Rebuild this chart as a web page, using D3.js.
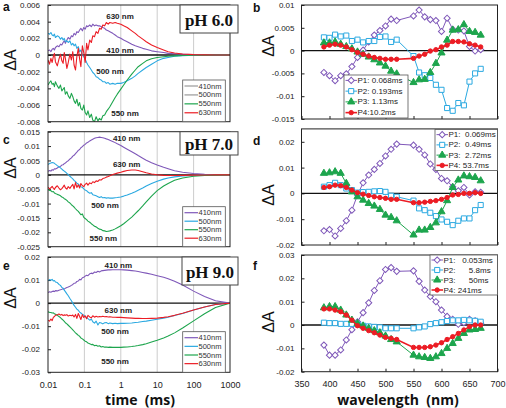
<!DOCTYPE html>
<html><head><meta charset="utf-8">
<script src="https://cdn.jsdelivr.net/npm/d3@7"></script>
<style>body{margin:0;background:#fff}svg{display:block}</style>
</head><body><svg id="c" width="506" height="408"></svg>
<script>
// ---------- DATA ----------
const T = [0.010,0.011,0.012,0.013,0.014,0.015,0.016,0.018,0.020,0.022,0.024,0.026,0.028,0.030,0.033,0.036,0.040,0.044,0.048,0.052,0.057,0.062,0.068,0.074,0.080,0.088,0.096,0.105,0.115,0.125,0.14,0.155,0.17,0.19,0.21,0.235,0.26,0.29,0.32,0.36,0.40,0.45,0.5,0.6,0.7,0.8,1.0,1.2,1.5,2.0,2.5,3.0,4.0,5.0,7.0,10,15,20,30,50,100,200,400,1000];

// pH 6.0
const a410 = [.0005,.0006,.0004,.0007,.0008,.0006,.0009,.0011,.0010,.0013,.0012,.0015,.0017,.0014,.0018,.0021,.0019,.0023,.0022,.0026,.0024,.0028,.0027,.0030,.0032,.0029,.0033,.0031,.0035,.0034,.0036,.0034,.0037,.0035,.0036,.0035,.0035,.0034,.0033,.0032,.0030,.0029,.0028,.0026,.0024,.0022,.0020,.0018,.0016,.0013,.0011,.0010,.0008,.0007,.0005,.0004,.0003,.0002,.00015,.0001,.00005,.00002,.00001,0];
const a500 = [.0026,.0025,.0027,.0024,.0023,.0025,.0021,.0023,.0022,.0019,.0021,.0018,.0020,.0016,.0017,.0015,.0017,.0012,.0014,.0011,.0013,.0008,.0010,.0004,.0006,.0000,-.0002,-.0005,-.0009,-.0012,-.0015,-.0018,-.0021,-.0023,-.0026,-.0027,-.0029,-.0030,-.0032,-.0032,-.0034,-.0033,-.0035,-.0034,-.0035,-.0034,-.0034,-.0033,-.0031,-.0028,-.0025,-.0022,-.0018,-.0015,-.0011,-.0007,-.0004,-.0003,-.00015,-.00008,-.00003,-.00001,0,0];
const a550 = [-.0036,-.0033,-.0031,-.0035,-.0034,-.0038,-.0032,-.0037,-.0040,-.0036,-.0043,-.0041,-.0039,-.0047,-.0044,-.0049,-.0052,-.0046,-.0050,-.0055,-.0058,-.0053,-.0061,-.0057,-.0064,-.0066,-.0060,-.0069,-.0072,-.0067,-.0075,-.0071,-.0078,-.0080,-.0074,-.0079,-.0076,-.0078,-.0073,-.0072,-.0068,-.0065,-.0062,-.0056,-.0051,-.0047,-.0041,-.0036,-.0030,-.0023,-.0018,-.0014,-.0010,-.0007,-.00045,-.0003,-.0002,-.00015,-.0001,-.00005,-.00002,-.00001,0,0];
const a630 = [-.0006,-.0011,-.0004,-.0009,-.0002,.0002,-.0008,-.0013,-.0005,.0001,-.0007,-.0010,.0003,-.0004,-.0016,-.0009,.0001,-.0006,.0004,-.0012,-.0018,-.0002,.0008,-.0005,-.0014,.0011,.0003,-.0009,.0014,.0006,.0018,.0015,.0023,.0022,.0028,.0026,.0032,.0031,.0036,.0035,.0039,.0037,.0039,.0038,.0039,.0038,.0037,.0035,.0033,.0029,.0026,.0023,.0019,.0016,.0012,.0009,.0006,.0004,.00025,.00012,.00005,.00002,.00001,0];
// pH 7.0
const c410 = [.0012,.0015,.0013,.0018,.0016,.0021,.0020,.0024,.0028,.0029,.0034,.0035,.0039,.0041,.0046,.0049,.0055,.0059,.0065,.0068,.0074,.0079,.0085,.0088,.0094,.0098,.0103,.0106,.0111,.0113,.0118,.0121,.0124,.0127,.0129,.0130,.0131,.0130,.0129,.0127,.0125,.0123,.0120,.0116,.0112,.0108,.0102,.0096,.0089,.0080,.0073,.0067,.0058,.0051,.0042,.0034,.0026,.0021,.0014,.0009,.00045,.0002,.0001,0];
const c500 = [.0036,.0039,.0041,.0043,.0042,.0040,.0037,.0032,.0028,.0024,.0020,.0016,.0013,.0010,.0005,.0001,-.0005,-.0010,-.0014,-.0019,-.0024,-.0029,-.0032,-.0037,-.0041,-.0044,-.0049,-.0053,-.0055,-.0060,-.0064,-.0062,-.0069,-.0071,-.0073,-.0076,-.0079,-.0076,-.0080,-.0079,-.0081,-.0080,-.0081,-.0081,-.0080,-.0079,-.0077,-.0074,-.0070,-.0064,-.0059,-.0054,-.0046,-.0039,-.0030,-.0022,-.0015,-.0011,-.0007,-.0004,-.0002,-.0001,-.00005,0];
const c550 = [-.0050,-.0054,-.0055,-.0059,-.0058,-.0063,-.0065,-.0068,-.0070,-.0073,-.0077,-.0079,-.0083,-.0085,-.0089,-.0094,-.0098,-.0104,-.0108,-.0112,-.0118,-.0123,-.0127,-.0133,-.0139,-.0136,-.0148,-.0152,-.0156,-.0161,-.0165,-.0170,-.0174,-.0179,-.0181,-.0186,-.0189,-.0190,-.0194,-.0195,-.0197,-.0196,-.0195,-.0192,-.0188,-.0184,-.0177,-.0170,-.0160,-.0147,-.0135,-.0125,-.0108,-.0094,-.0074,-.0055,-.0039,-.0030,-.0019,-.0011,-.0005,-.00025,-.0001,0];
const c630 = [-.0043,-.0049,-.0045,-.0040,-.0047,-.0051,-.0044,-.0038,-.0046,-.0052,-.0048,-.0042,-.0036,-.0045,-.0050,-.0041,-.0047,-.0039,-.0033,-.0049,-.0027,-.0044,-.0035,-.0046,-.0030,-.0038,-.0041,-.0033,-.0029,-.0036,-.0028,-.0031,-.0024,-.0027,-.0021,-.0023,-.0017,-.0018,-.0013,-.0011,-.0008,-.0006,-.0003,.0001,.0004,.0006,.0009,.0012,.0015,.0017,.0017,.0015,.0011,.0007,.0003,.0000,-.0002,-.00025,-.00025,-.0002,-.0001,-.00005,-.00002,0];
// pH 9.0
const e410 = [.0046,.0049,.0047,.0050,.0052,.0050,.0054,.0053,.0056,.0058,.0060,.0062,.0061,.0065,.0068,.0070,.0073,.0077,.0081,.0086,.0087,.0094,.0096,.0103,.0101,.0110,.0112,.0117,.0121,.0119,.0127,.0130,.0128,.0135,.0133,.0138,.0135,.0140,.0141,.0142,.0143,.0144,.0144,.0145,.0145,.0145,.0145,.0144,.0143,.0141,.0139,.0137,.0133,.0130,.0125,.0119,.0112,.0106,.0095,.0079,.0052,.0029,.0010,0];
const e500 = [.0098,.0102,.0099,.0103,.0096,.0098,.0092,.0089,.0081,.0077,.0068,.0065,.0056,.0050,.0040,.0032,.0020,.0010,.0000,-.0010,-.0018,-.0026,-.0031,-.0039,-.0043,-.0048,-.0052,-.0058,-.0062,-.0067,-.0074,-.0069,-.0081,-.0087,-.0078,-.0095,-.0084,-.0086,-.0090,-.0085,-.0084,-.0089,-.0086,-.0089,-.0087,-.0089,-.0088,-.0088,-.0087,-.0086,-.0084,-.0083,-.0080,-.0078,-.0074,-.0070,-.0065,-.0061,-.0054,-.0045,-.0030,-.0017,-.0006,0];
const e550 = [-.0038,-.0040,-.0041,-.0043,-.0042,-.0046,-.0048,-.0053,-.0058,-.0063,-.0069,-.0074,-.0079,-.0085,-.0090,-.0096,-.0103,-.0110,-.0116,-.0122,-.0129,-.0134,-.0140,-.0144,-.0151,-.0155,-.0160,-.0165,-.0168,-.0173,-.0176,-.0180,-.0179,-.0185,-.0183,-.0187,-.0185,-.0190,-.0188,-.0191,-.0190,-.0192,-.0191,-.0192,-.0192,-.0192,-.0192,-.0191,-.0190,-.0188,-.0186,-.0184,-.0180,-.0176,-.0169,-.0161,-.0151,-.0143,-.0129,-.0108,-.0077,-.0046,-.0019,0];
const e630 = [-.0074,-.0078,-.0069,-.0076,-.0062,-.0058,-.0053,-.0050,-.0047,-.0052,-.0049,-.0054,-.0051,-.0053,-.0050,-.0056,-.0053,-.0055,-.0052,-.0060,-.0049,-.0066,-.0045,-.0058,-.0071,-.0050,-.0062,-.0055,-.0068,-.0053,-.0060,-.0064,-.0055,-.0061,-.0057,-.0060,-.0058,-.0059,-.0057,-.0059,-.0058,-.0060,-.0059,-.0061,-.0061,-.0062,-.0062,-.0063,-.0064,-.0065,-.0066,-.0066,-.0067,-.0067,-.0066,-.0065,-.0062,-.0059,-.0053,-.0044,-.0030,-.0017,-.0006,0];

const traceNames = ["410nm","500nm","550nm","630nm"];
const timeTicks = [0.01,0.1,1,10,100,1000];

// spectra
const WL = [390,400,410,420,430,440,450,460,470,480,490,500,510,520,550,560,570,580,590,600,610,620,630,640,650,660,670];
const bP1 = [-.0048,-.0055,-.0066,-.0055,-.0051,-.0035,-.0015,.0001,.0019,.0034,.0044,.0054,.0069,.0066,.0076,.0089,.0074,.0068,.0066,.0042,.0071,.0047,.0045,.0043,.0009,-.0001,.0002];
const bP2 = [.0029,.0028,.0035,.0031,.0033,.0021,.0024,.0018,.0021,.0021,.0030,.0031,.0019,.0024,-.0012,-.0048,-.0054,-.0060,-.0075,-.0086,-.0126,-.0132,-.0115,-.0120,-.0068,-.0050,-.0040];
const bP3 = [.0017,.0017,.0019,.0014,.0009,.0004,-.0003,-.0008,-.0014,-.0020,-.0027,-.0034,-.0045,-.0051,-.0070,-.0064,-.0063,-.0048,-.0028,-.0005,.0023,.0045,.0046,.0057,.0042,.0040,.0034];
const bP4 = [.0008,.0012,.0014,.0012,.0008,.0002,-.0004,-.0008,-.0012,-.0015,-.0017,-.0019,-.0019,-.0019,-.0017,-.0012,-.0008,-.0001,.0002,.0008,.0012,.0020,.0020,.0019,.0015,.0012,.0008];
const dP1 = [-.0145,-.0140,-.0165,-.0136,-.0106,-.0065,-.0006,.0041,.0071,.0093,.0116,.0145,.0171,.0191,.0187,.0171,.0149,.0114,.0093,.0058,.0049,.0026,.0010,.0023,-.0006,.0006,.0004];
const dP2 = [.0026,.0032,.0041,.0032,.0019,.0013,.0003,.0005,.0006,.0008,.0009,.0006,-.0009,-.0013,-.0028,-.0058,-.0065,-.0075,-.0088,-.0101,-.0110,-.0123,-.0106,-.0097,-.0097,-.0065,-.0045];
const dP3 = [.0078,.0080,.0084,.0078,.0039,.0006,-.0013,-.0026,-.0039,-.0049,-.0062,-.0084,-.0093,-.0106,-.0161,-.0142,-.0142,-.0132,-.0114,-.0071,-.0028,.0023,.0052,.0068,.0065,.0062,.0049];
const dP4 = [.0023,.0026,.0032,.0030,.0023,.0013,.0003,-.0003,-.0008,-.0013,-.0016,-.0019,-.0023,-.0023,-.0036,-.0036,-.0034,-.0031,-.0028,-.0023,-.0016,-.0006,-.0004,.0000,.0000,.0003,.0000];
const fP1 = [-.0086,-.0129,-.0129,-.0107,-.0064,-.0020,.0014,.0053,.0095,.0148,.0190,.0238,.0246,.0230,.0232,.0187,.0150,.0122,.0100,.0064,.0037,.0025,.0003,.0010,.0025,.0018,.0008];
const fP2 = [.0010,.0008,.0008,.0005,.0005,.0005,.0003,-.0003,-.0006,-.0008,-.0010,-.0014,-.0014,-.0014,-.0014,-.0010,-.0006,.0004,.0008,.0012,.0017,.0020,.0020,.0022,.0020,.0018,.0014];
const fP3 = [.0074,.0079,.0079,.0064,.0043,.0021,.0007,-.0004,-.0014,-.0024,-.0033,-.0047,-.0062,-.0072,-.0129,-.0136,-.0139,-.0143,-.0136,-.0122,-.0100,-.0079,-.0057,-.0036,-.0021,-.0019,-.0014];
const fP4 = [.0069,.0069,.0064,.0057,.0043,.0021,-.0003,-.0014,-.0024,-.0033,-.0043,-.0053,-.0057,-.0062,-.0096,-.0096,-.0096,-.0093,-.0086,-.0076,-.0062,-.0050,-.0036,-.0021,-.0007,.0000,.0000];
const bLegend = ["P1: 0.068ms","P2: 0.193ms","P3: 1.13ms","P4:10.2ms"];
const dLegend = ["P1:  0.069ms","P2:  0.49ms","P3:  2.72ms","P4: 53.7ms"];
const fLegend = ["P1:   0.053ms","P2:      5.8ms","P3:      50ms","P4: 241ms"];
const wlTicks = [350,400,450,500,550,600,650,700];

// ---------- DRAW ----------
const svg = d3.select("#c");
const FONT = "'Liberation Sans', Arial, sans-serif";
const COL = {p:"#7f58b9", c:"#2ba9e1", g:"#1da54d", r:"#ec1c24"};
const traceCols = [COL.p, COL.c, COL.g, COL.r];
const fmt = d => d === 0 ? "0" : String(+d.toFixed(4));
let clipId = 0;

function frame(g, x0, x1, y0, y1) {
  g.append("rect").attr("x", x0).attr("y", y0).attr("width", x1 - x0).attr("height", y1 - y0)
    .attr("fill", "none").attr("stroke", "#222").attr("stroke-width", 1);
}
function clip(x0, x1, y0, y1) {
  const id = "cp" + (clipId++);
  svg.append("clipPath").attr("id", id).append("rect").attr("x", x0).attr("y", y0).attr("width", x1 - x0).attr("height", y1 - y0);
  return "url(#" + id + ")";
}
function yTitle(x, y) {
  svg.append("text").attr("transform", `translate(${x},${y}) rotate(-90)`)
    .attr("text-anchor", "middle").attr("dominant-baseline", "central")
    .attr("font-family", FONT).attr("font-size", 16).attr("fill", "#111").text("ΔA");
}
function letter(t, x, y) {
  svg.append("text").attr("x", x).attr("y", y).attr("font-family", FONT).attr("font-weight", "bold")
    .attr("font-size", 12).attr("fill", "#111").text(t);
}

// ----- time panels -----
const XL = [48, 230];
function timePanel(cfg) {
  const x = d3.scaleLog().domain([0.01, 1000]).range(XL);
  const y = d3.scaleLinear().domain(cfg.dom).range([cfg.y1, cfg.y0]);
  const g = svg.append("g");
  g.selectAll(".grid").data(timeTicks.slice(1, -1)).join("line")
    .attr("x1", d => x(d)).attr("x2", d => x(d)).attr("y1", cfg.y0).attr("y2", cfg.y1)
    .attr("stroke", "#c6c6c6").attr("stroke-width", 0.9);
  const ya = g.append("g").attr("transform", `translate(${XL[0]},0)`)
    .call(d3.axisLeft(y).tickValues(cfg.ticks).tickFormat(fmt).tickSize(-3).tickPadding(8));
  ya.select(".domain").remove();
  ya.selectAll("text").attr("font-family", FONT).attr("font-size", 8).attr("fill", "#222");
  ya.selectAll("line").attr("stroke", "#222");
  if (cfg.xlabels) {
    const xa = g.append("g").attr("transform", `translate(0,${cfg.y1})`)
      .call(d3.axisBottom(x).tickValues(timeTicks).tickFormat(d => String(d)).tickSize(0).tickPadding(9));
    xa.select(".domain").remove();
    xa.selectAll("text").attr("font-family", FONT).attr("font-size", 9).attr("fill", "#222");
  }
  g.append("line").attr("x1", XL[0]).attr("x2", XL[1]).attr("y1", y(0)).attr("y2", y(0))
    .attr("stroke", "#111").attr("stroke-width", 1.4);
  const cp = clip(XL[0], XL[1], cfg.y0, cfg.y1);
  const line = d3.line().x(d => x(d[0])).y(d => y(d[1]));
  const lg = g.append("g").attr("clip-path", cp);
  cfg.data.forEach((arr, i) => {
    lg.append("path").attr("d", line(d3.zip(T, arr))).attr("fill", "none")
      .attr("stroke", traceCols[i]).attr("stroke-width", 1.1).attr("stroke-linejoin", "round");
  });
  frame(g, XL[0], XL[1], cfg.y0, cfg.y1);
  cfg.labels.forEach(l => {
    g.append("text").attr("x", l[1]).attr("y", l[2]).attr("text-anchor", "middle").attr("dominant-baseline", "central")
      .attr("font-family", FONT).attr("font-weight", "bold").attr("font-size", 8).attr("fill", "#222").text(l[0]);
  });
  const L = cfg.legend;
  g.append("rect").attr("x", 182.7).attr("y", L.top).attr("width", 42.6).attr("height", L.bottom - L.top)
    .attr("fill", "#fff").attr("stroke", "#555").attr("stroke-width", 0.8);
  traceNames.forEach((n, i) => {
    const yy = L.top + 5.5 + i * (L.bottom - L.top - 6) / 4 + 0.5;
    g.append("line").attr("x1", 184.5).attr("x2", 198).attr("y1", yy).attr("y2", yy)
      .attr("stroke", L.cols[i]).attr("stroke-width", 1.2);
    g.append("text").attr("x", 198.5).attr("y", yy).attr("dominant-baseline", "central")
      .attr("font-family", FONT).attr("font-size", 7.5).attr("fill", "#333").text(n);
  });
  const P = cfg.ph;
  g.append("rect").attr("x", P.x0).attr("y", P.y0).attr("width", P.x1 - P.x0).attr("height", P.y1 - P.y0)
    .attr("fill", "#fff").attr("stroke", "#444").attr("stroke-width", 1);
  g.append("text").attr("x", (P.x0 + P.x1) / 2).attr("y", (P.y0 + P.y1) / 2 + 1).attr("text-anchor", "middle")
    .attr("dominant-baseline", "central").attr("font-family", "'Liberation Serif', 'Times New Roman', serif")
    .attr("font-weight", "bold").attr("font-size", 17).attr("fill", "#111").text(P.text);
}

timePanel({dom:[-0.008,0.006], y0:5, y1:121.7, ticks:[-0.008,-0.006,-0.004,-0.002,0,0.002,0.004,0.006],
  data:[a410,a500,a550,a630],
  labels:[["630 nm",120,16.5],["410 nm",120,50.5],["500 nm",110,71.5],["550 nm",125,113.5]],
  legend:{top:80, bottom:121.7, cols:["#999","#999",COL.g,COL.r]},
  ph:{x0:180, y0:5, x1:238, y1:33, text:"pH 6.0"}});
timePanel({dom:[-0.025,0.015], y0:131.7, y1:246.7, ticks:[-0.025,-0.02,-0.015,-0.01,-0.005,0,0.005,0.01,0.015],
  data:[c410,c500,c550,c630],
  labels:[["410 nm",126.7,138.5],["630 nm",126.7,164.5],["500 nm",105,205],["550 nm",103.3,238.5]],
  legend:{top:206.7, bottom:246.7, cols:traceCols},
  ph:{x0:180, y0:131.7, x1:238, y1:155, text:"pH 7.0"}});
timePanel({dom:[-0.03,0.02], y0:257, y1:372.3, ticks:[-0.03,-0.02,-0.01,0,0.01,0.02],
  data:[e410,e500,e550,e630], xlabels:true,
  labels:[["410 nm",118.3,265.5],["630 nm",118.3,310],["500 nm",115,331.5],["550 nm",115,361.5]],
  legend:{top:331.7, bottom:372.3, cols:traceCols},
  ph:{x0:182, y0:257, x1:238, y1:285, text:"pH 9.0"}});

// ----- spectra panels -----
const XR = [301.5, 497.5];
const symDefs = [
  {type:d3.symbolSquare, size:19, rot:45, fill:"#fff", stroke:COL.p},
  {type:d3.symbolSquare, size:26, rot:0, fill:"#fff", stroke:COL.c},
  {type:d3.symbolTriangle, size:22, rot:0, fill:COL.g, stroke:COL.g},
  {type:d3.symbolCircle, size:15, rot:0, fill:COL.r, stroke:COL.r}
];
function specPanel(cfg) {
  const x = d3.scaleLinear().domain([350, 700]).range(XR);
  const y = d3.scaleLinear().domain(cfg.dom).range([cfg.y1, cfg.y0]);
  const g = svg.append("g");
  const ya = g.append("g").attr("transform", `translate(${XR[0]},0)`)
    .call(d3.axisLeft(y).tickValues(cfg.ticks).tickFormat(fmt).tickSize(-3).tickPadding(7));
  ya.select(".domain").remove();
  ya.selectAll("text").attr("font-family", FONT).attr("font-size", 8).attr("fill", "#222");
  ya.selectAll("line").attr("stroke", "#222");
  const xa = g.append("g").attr("transform", `translate(0,${cfg.y1})`)
    .call(d3.axisBottom(x).tickValues(wlTicks).tickFormat(cfg.xlabels ? d => String(d) : () => "").tickSize(-3).tickPadding(9));
  xa.select(".domain").remove();
  xa.selectAll("line").attr("stroke", "#222");
  xa.selectAll("text").attr("font-family", FONT).attr("font-size", 9).attr("fill", "#222");
  g.append("line").attr("x1", XR[0]).attr("x2", XR[1]).attr("y1", y(0)).attr("y2", y(0))
    .attr("stroke", "#111").attr("stroke-width", 1.4);
  const line = d3.line().x(d => x(d[0])).y(d => y(d[1]));
  cfg.data.forEach((arr, i) => {
    const s = symDefs[i];
    const pts = d3.zip(WL, arr);
    g.append("path").attr("d", line(pts)).attr("fill", "none").attr("stroke", s.stroke)
      .attr("stroke-width", i === 3 ? 1.6 : 1);
    g.selectAll(null).data(pts).join("path")
      .attr("transform", d => `translate(${x(d[0])},${y(d[1])}) rotate(${s.rot})`)
      .attr("d", d3.symbol().type(s.type).size(s.size))
      .attr("fill", s.fill).attr("stroke", s.stroke).attr("stroke-width", 1);
  });
  frame(g, XR[0], XR[1], cfg.y0, cfg.y1);
  const L = cfg.legend;
  g.append("rect").attr("x", L.x0).attr("y", L.y0).attr("width", L.x1 - L.x0).attr("height", L.y1 - L.y0)
    .attr("fill", "#fff").attr("stroke", "#555").attr("stroke-width", 0.8);
  L.names.forEach((n, i) => {
    const yy = L.y0 + (i + 0.5) * (L.y1 - L.y0) / 4;
    const s = symDefs[i];
    g.append("line").attr("x1", L.x0 + 1.5).attr("x2", L.x0 + 13).attr("y1", yy).attr("y2", yy)
      .attr("stroke", s.stroke).attr("stroke-width", i === 3 ? 1.6 : 1);
    g.append("path").attr("transform", `translate(${L.x0 + 7.2},${yy}) rotate(${s.rot})`)
      .attr("d", d3.symbol().type(s.type).size(s.size)).attr("fill", s.fill).attr("stroke", s.stroke);
    g.append("text").attr("x", L.x0 + 13.5).attr("y", yy).attr("dominant-baseline", "central")
      .attr("xml:space", "preserve").style("white-space", "pre")
      .attr("font-family", FONT).attr("font-size", 8).attr("fill", "#222").text(n);
  });
}

specPanel({dom:[-0.015,0.01], y0:5, y1:119, ticks:[-0.015,-0.01,-0.005,0,0.005,0.01],
  data:[bP1,bP2,bP3,bP4], legend:{x0:344, y0:75, x1:408, y1:118, names:bLegend}});
specPanel({dom:[-0.02,0.025], y0:128.9, y1:245, ticks:[-0.02,-0.01,0,0.01,0.02],
  data:[dP1,dP2,dP3,dP4], legend:{x0:435, y0:129.5, x1:497.5, y1:170.5, names:dLegend}});
specPanel({dom:[-0.02,0.03], y0:255, y1:371.7, ticks:[-0.02,-0.01,0,0.01,0.02,0.03], xlabels:true,
  data:[fP1,fP2,fP3,fP4], legend:{x0:430, y0:255, x1:497.5, y1:295, names:fLegend}});

yTitle(10, 60); yTitle(10, 168); yTitle(10, 298);
yTitle(268, 46); yTitle(268, 195); yTitle(268, 322);
letter("a", 3, 11); letter("b", 253, 12); letter("c", 3, 144); letter("d", 253, 145); letter("e", 3, 270); letter("f", 253, 270);
svg.append("text").attr("x", 140).attr("y", 399).attr("text-anchor", "middle").attr("dominant-baseline", "central")
  .attr("font-family", "'Open Sans', sans-serif").attr("font-weight", "bold").attr("font-size", 14)
  .attr("fill", "#111").style("white-space", "pre").text("time  (ms)");
svg.append("text").attr("x", 398).attr("y", 399).attr("text-anchor", "middle").attr("dominant-baseline", "central")
  .attr("font-family", "'Open Sans', sans-serif").attr("font-weight", "bold").attr("font-size", 14)
  .attr("fill", "#111").style("white-space", "pre").text("wavelength  (nm)");
</script></body></html>
